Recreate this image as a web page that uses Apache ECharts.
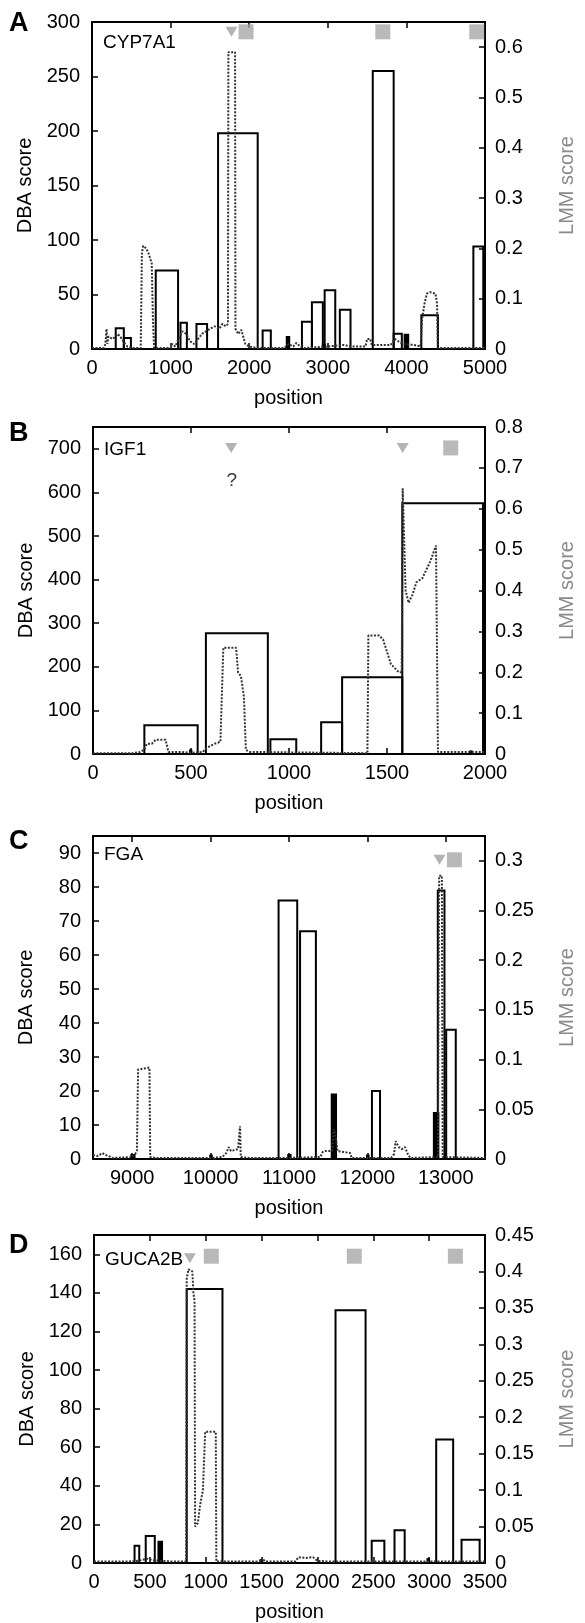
<!DOCTYPE html>
<html>
<head>
<meta charset="utf-8">
<script src="https://cdn.jsdelivr.net/npm/echarts@6/dist/echarts.min.js"></script>
<style>
html, body { margin: 0; padding: 0; background: #fff; }
#main { width: 585px; height: 1623px; }
</style>
</head>
<body>
<div id="main"></div>
<script>
// ---- data: DBA boxes are [start, end, score], LMM is [position, score] ----

// A  CYP7A1
var barsA = [[302,405,19],[405,495,10],[811,1095,72],[1126,1207,24],[1329,1464,23],[1604,2108,198],
  [2171,2275,17],[2671,2798,25],[2798,2937,43],[2960,3095,54],[3153,3289,36],[3572,3838,255],
  [3838,3942,14],[4190,4401,31],[4852,4978,94]];
var solidA = [[2478,2509,11],[2937,2962,4],[3978,4023,13]];
var lmmA = [[0,0.002],[150,0.002],[170,0.01],[185,0.04],[195,0.01],[210,0.025],[260,0.02],[300,0.025],
  [330,0.03],[380,0.02],[420,0.01],[450,0.005],[500,0.002],[620,0.002],[635,0.19],[650,0.205],[690,0.2],
  [720,0.19],[740,0.18],[760,0.17],[775,0.06],[790,0.002],[1000,0.002],[1020,0.01],[1060,0.005],
  [1100,0.02],[1150,0.035],[1200,0.03],[1250,0.015],[1300,0.01],[1350,0.02],[1400,0.03],[1450,0.035],
  [1500,0.04],[1560,0.045],[1620,0.04],[1660,0.05],[1700,0.045],[1730,0.05],[1735,0.59],[1780,0.59],
  [1820,0.59],[1825,0.04],[1860,0.03],[1900,0.038],[1950,0.01],[2000,0.005],[2100,0.002],[2450,0.002],
  [2500,0.01],[2560,0.005],[2600,0.012],[2650,0.005],[2700,0.002],[3000,0.005],[3200,0.008],[3300,0.005],
  [3480,0.005],[3500,0.02],[3540,0.02],[3560,0.008],[3800,0.008],[3850,0.02],[3900,0.015],[3960,0.01],
  [4100,0.008],[4180,0.005],[4200,0.06],[4230,0.09],[4260,0.11],[4300,0.113],[4370,0.11],[4390,0.09],
  [4400,0.002],[5000,0.002]];
var triA = [[1775,291]];
var sqA = [[1960,291],[3700,291],[4895,291]];

// B  IGF1
var barsB = [[262,534,66],[576,892,277],[905,1037,34],[1164,1271,73],[1271,1578,176],[1578,1990,575]];
var solidB = [[495,502,8],[1925,1932,6]];
var lmmB = [[0,0.002],[200,0.002],[240,0.005],[260,0.01],[275,0.025],[300,0.025],[320,0.035],[370,0.035],
  [385,0.005],[450,0.005],[500,0.003],[560,0.005],[580,0.015],[620,0.025],[650,0.03],[665,0.26],[730,0.26],
  [740,0.2],[755,0.19],[770,0.14],[780,0.01],[800,0.005],[1400,0.002],[1405,0.29],[1460,0.29],[1480,0.28],
  [1500,0.25],[1520,0.22],[1540,0.21],[1560,0.2],[1575,0.2],[1580,0.65],[1590,0.65],[1595,0.4],[1610,0.37],
  [1630,0.39],[1650,0.42],[1680,0.43],[1700,0.45],[1720,0.47],[1750,0.51],[1755,0.51],[1760,0.005],[2000,0.005]];
var triB = [[705,702],[1580,702]];
var sqB = [[1825,702]];
var askB = [[708,626]];

// C  FGA
var barsC = [[10867,11105,76],[11141,11343,67],[12058,12161,20],[12898,12983,79],[13005,13127,38]];
var solidC = [[11545,11600,19],[12848,12905,13.5],[8990,9030,1.2],[9995,10015,1],[10990,11020,1.2],[11995,12015,1]];
var lmmC = [[8500,0.004],[8560,0.003],[8620,0.006],[8660,0.004],[8700,0.003],[8750,0.001],[9000,0.002],
  [9030,0.004],[9060,0.008],[9075,0.09],[9100,0.092],[9220,0.092],[9230,0.002],[9300,0.001],[10000,0.001],
  [10150,0.002],[10200,0.006],[10230,0.012],[10260,0.008],[10280,0.01],[10350,0.01],[10375,0.033],
  [10385,0.002],[10500,0.001],[11000,0.001],[11400,0.002],[11430,0.007],[11460,0.008],[11550,0.008],
  [11570,0.03],[11590,0.025],[11620,0.008],[11700,0.007],[11780,0.006],[11800,0.001],[12300,0.001],
  [12340,0.005],[12360,0.018],[12400,0.012],[12440,0.01],[12480,0.012],[12520,0.004],[12550,0.001],
  [12900,0.002],[12915,0.285],[12950,0.285],[12960,0.002],[13500,0.001]];
var triC = [[12920,88]];
var sqC = [[13110,88]];
var ticksC = [9000,10000,11000,12000,13000];

// D  GUCA2B
var barsD = [[363,405,9],[463,544,14],[830,1150,142],[2162,2431,131],[2486,2599,11.5],[2690,2781,17],
  [3063,3215,64],[3290,3452,12]];
var solidD = [[577,609,11],[1490,1505,1.5],[2985,3000,2]];
var lmmD = [[0,0.002],[300,0.002],[400,0.003],[480,0.006],[520,0.004],[600,0.003],[700,0.002],[825,0.002],
  [830,0.39],[845,0.403],[880,0.4],[890,0.37],[900,0.36],[905,0.05],[930,0.055],[950,0.08],[975,0.1],
  [990,0.1],[995,0.18],[1090,0.18],[1095,0.002],[1500,0.002],[1510,0.006],[1530,0.002],[1800,0.002],
  [1830,0.008],[1900,0.007],[1960,0.008],[2000,0.003],[2100,0.002],[3500,0.002]];
var triD = [[858,158]];
var sqD = [[1050,159],[2330,159],[3235,159]];

var font = 'Liberation Sans, Arial, Helvetica, sans-serif';
var fs = 20;

var panels = [
  {letter:'A', gene:'CYP7A1', box:[92,22,416,327], x:[0,5000,1000], y:[300,50,true], y2:[0.65,0.1,false],
   bars:barsA, solid:solidA, lmm:lmmA, tri:triA, sq:sqA, letterTop:10, geneTop:33},
  {letter:'B', gene:'IGF1', box:[93,427,415,327], x:[0,2000,500], y:[750,100,false], y2:[0.8,0.1,true],
   bars:barsB, solid:solidB, lmm:lmmB, tri:triB, sq:sqB, letterTop:420, geneTop:440},
  {letter:'C', gene:'FGA', box:[93,836,415,323], x:[8500,13500,1000], xTicks:ticksC, y:[95,10,false], y2:[0.325,0.05,false],
   bars:barsC, solid:solidC, lmm:lmmC, tri:triC, sq:sqC, letterTop:828, geneTop:845},
  {letter:'D', gene:'GUCA2B', box:[94,1235,404,328], x:[0,3500,500], y:[170,20,false], y2:[0.45,0.05,true],
   bars:barsD, solid:solidD, lmm:lmmD, tri:triD, sq:sqD, letterTop:1232, geneTop:1250}
];

function boxItem(fill) {
  return function (params, api) {
    var a = api.coord([api.value(0), api.value(2)]);
    var b = api.coord([api.value(1), 0]);
    return {
      type: 'rect',
      shape: { x: a[0], y: a[1], width: b[0] - a[0], height: b[1] - a[1] },
      style: { fill: fill, stroke: '#000', lineWidth: 2 }
    };
  };
}

function plain(v) { return String(v); }

var frameLine = { show: true, onZero: false, lineStyle: { color: '#000', width: 2 } };
var tick = { show: true, inside: true, length: 6, lineStyle: { color: '#000', width: 1.5 } };

var option = { animation: false, backgroundColor: '#fff', grid: [], xAxis: [], yAxis: [], series: [], graphic: [] };

panels.forEach(function (p, i) {
  option.grid.push({ left: p.box[0], top: p.box[1], width: p.box[2], height: p.box[3] });

  var xb = {
    gridIndex: i, type: 'value', position: 'bottom', min: p.x[0], max: p.x[1], interval: p.x[2],
    axisLine: frameLine, axisTick: Object.assign({}, tick),
    axisLabel: { fontSize: fs, color: '#000', fontFamily: font, margin: 9, formatter: plain,
      showMinLabel: true, showMaxLabel: true },
    splitLine: { show: false },
    name: 'position', nameLocation: 'middle', nameGap: 39,
    nameTextStyle: { fontSize: fs, color: '#000', fontFamily: font }
  };
  var xt = {
    gridIndex: i, type: 'value', position: 'top', min: p.x[0], max: p.x[1], interval: p.x[2],
    axisLine: frameLine, axisTick: Object.assign({}, tick), axisLabel: { show: false }, splitLine: { show: false }
  };
  if (p.xTicks) {
    xb.axisLabel.customValues = p.xTicks;
    xb.axisTick.customValues = p.xTicks;
    xt.axisTick.customValues = p.xTicks;
  }
  option.xAxis.push(xb, xt);

  option.yAxis.push({
    gridIndex: i, type: 'value', position: 'left', min: 0, max: p.y[0], interval: p.y[1],
    axisLine: frameLine, axisTick: tick,
    axisLabel: { fontSize: fs, color: '#000', fontFamily: font, margin: 12, showMaxLabel: p.y[2] },
    splitLine: { show: false },
    name: 'DBA score', nameLocation: 'middle', nameGap: 57, nameRotate: 90,
    nameTextStyle: { fontSize: fs, color: '#000', fontFamily: font }
  }, {
    gridIndex: i, type: 'value', position: 'right', min: 0, max: p.y2[0], interval: p.y2[1],
    axisLine: frameLine, axisTick: tick,
    axisLabel: { fontSize: fs, color: '#000', fontFamily: font, margin: 10, showMaxLabel: p.y2[2] },
    splitLine: { show: false },
    name: 'LMM score', nameLocation: 'middle', nameGap: 72, nameRotate: 90,
    nameTextStyle: { fontSize: fs, color: '#8a8a8a', fontFamily: font }
  });

  var xi = 2 * i, yl = 2 * i, yr = 2 * i + 1;
  option.series.push(
    { type: 'custom', xAxisIndex: xi, yAxisIndex: yl, data: p.bars, encode: { x: [0, 1], y: 2 },
      renderItem: boxItem('rgba(255,255,255,0)'), z: 2 },
    { type: 'custom', xAxisIndex: xi, yAxisIndex: yl, data: p.solid, encode: { x: [0, 1], y: 2 },
      renderItem: boxItem('#000'), z: 2 },
    { type: 'line', xAxisIndex: xi, yAxisIndex: yr, data: p.lmm, showSymbol: false, z: 3,
      lineStyle: { type: [2, 1.5], width: 2, color: '#333' } },
    { type: 'scatter', xAxisIndex: xi, yAxisIndex: yl, data: p.tri, symbol: 'triangle', symbolRotate: 180,
      symbolSize: [12, 10], itemStyle: { color: '#a0a0a0' }, z: 4 },
    { type: 'scatter', xAxisIndex: xi, yAxisIndex: yl, data: p.sq, symbol: 'rect',
      symbolSize: 15, itemStyle: { color: '#a8a8a8' }, z: 4 }
  );

  option.graphic.push(
    { type: 'text', left: 9, top: p.letterTop, style: { text: p.letter, font: 'bold 27px ' + font, fill: '#000' } },
    { type: 'text', left: p.box[0] + 11, top: p.geneTop, style: { text: p.gene, font: '19px ' + font, fill: '#000' } }
  );
});

// the question mark under the first IGF1 site
option.series.push({
  type: 'scatter', xAxisIndex: 2, yAxisIndex: 2, data: askB, symbolSize: 1,
  itemStyle: { color: 'rgba(0,0,0,0)' },
  label: { show: true, position: 'inside', formatter: '?', fontSize: 19, color: '#000', fontFamily: font }
});

var chart = echarts.init(document.getElementById('main'));
chart.setOption(option);
</script>
</body>
</html>
